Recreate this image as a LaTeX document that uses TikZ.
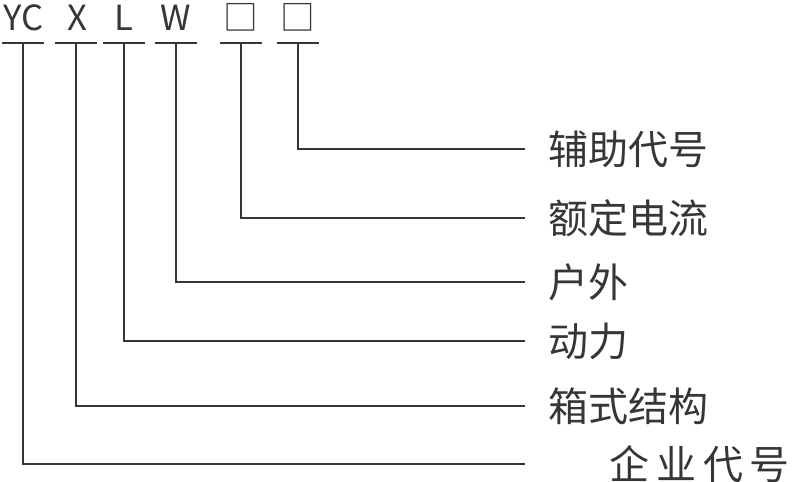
\documentclass[tikz,border=0pt]{standalone}
\usepackage{fontspec}
\setmainfont{Noto Sans CJK SC}
\definecolor{ink}{HTML}{3A3535}
\begin{document}
\begin{tikzpicture}[x=0.75pt,y=-0.75pt,
line width=1.1pt,draw=ink,text=ink,
code node/.style={anchor=base,inner sep=0pt,font=\fontsize{26}{26}\selectfont},
lbl/.style={anchor=west,inner ysep=0pt,inner xsep=17pt,text height=22.8pt,text depth=0pt,
  font=\fontsize{30}{30}\selectfont}]
\useasboundingbox (0,0) rectangle (794,482);

\node[code node] (c1) at (24,30) {YC};
\node[code node] (c2) at (77,30) {X};
\node[code node] (c3) at (124,30) {L};
\node[code node] (c4) at (176,30) {W};
\node[code node] (c5) at (241,30) {□};
\node[code node] (c6) at (298,30) {□};

\coordinate (u1) at (23,43);
\coordinate (u2) at (76,43);
\coordinate (u3) at (124,43);
\coordinate (u4) at (176,43);
\coordinate (u5) at (241,43);
\coordinate (u6) at (298,43);

\node[lbl] (l6) at (525,149) {辅助代号};
\node[lbl] (l5) at (525,218) {额定电流};
\node[lbl] (l4) at (525,282) {户外};
\node[lbl] (l3) at (525,341) {动力};
\node[lbl] (l2) at (525,406) {箱式结构};
\node[lbl,inner xsep=0pt] (l1) at (525,464) {\hspace{63pt}企\hspace{5pt}业\hspace{5pt}代\hspace{5pt}号};

\foreach \u in {u1,u2,u3,u4,u5,u6}
  \draw [-] ([xshift=-15.5pt]\u) -- ([xshift=15.5pt]\u);

\draw [-] (u1) |- (l1.west);
\draw [-] (u2) |- (l2.west);
\draw [-] (u3) |- (l3.west);
\draw [-] (u4) |- (l4.west);
\draw [-] (u5) |- (l5.west);
\draw [-] (u6) |- (l6.west);
\end{tikzpicture}
\end{document}
